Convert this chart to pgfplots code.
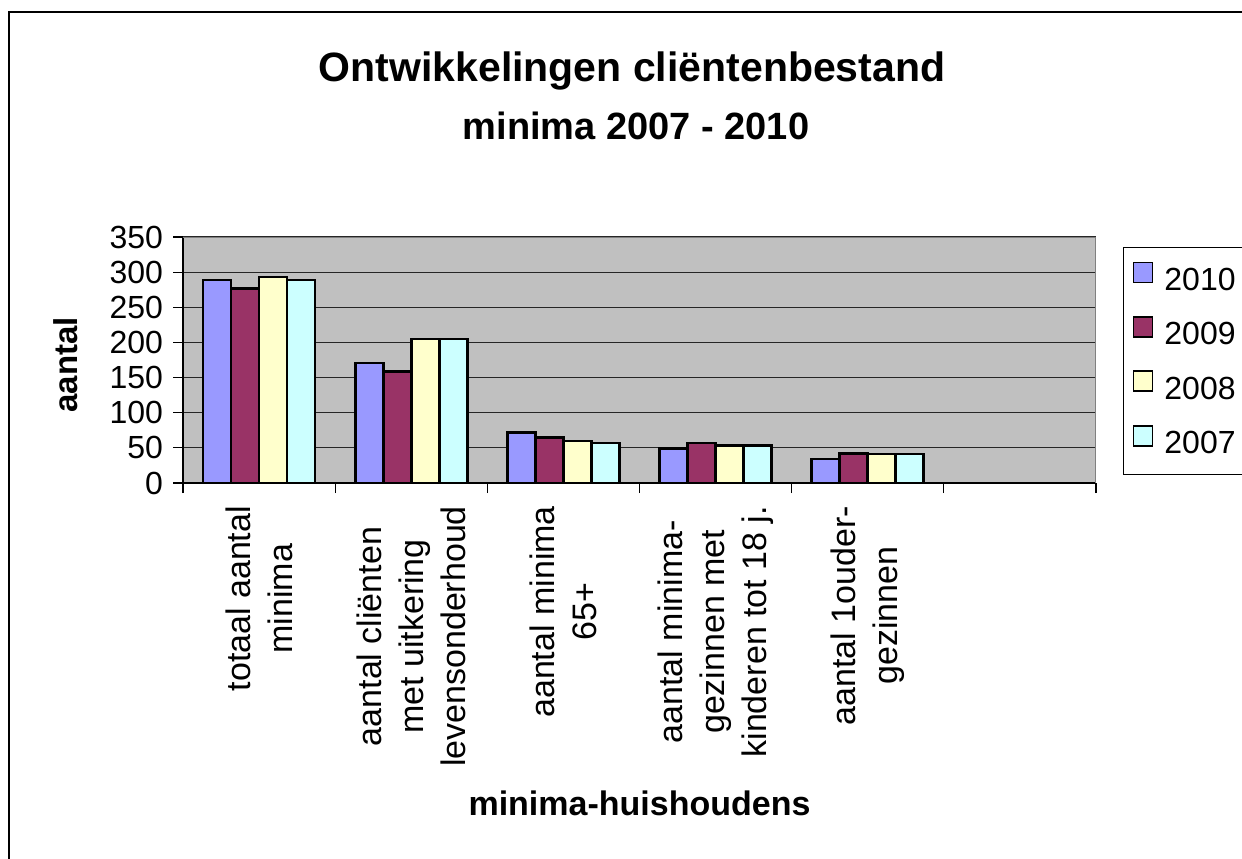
\documentclass[border=0pt]{standalone}
\usepackage{fontspec}
\setmainfont{Liberation Sans}
\usepackage{pgfplots}
\pgfplotsset{compat=1.18}
\definecolor{c2010}{HTML}{9999FF}
\definecolor{c2009}{HTML}{993366}
\definecolor{c2008}{HTML}{FFFFCC}
\definecolor{c2007}{HTML}{CCFFFF}
\definecolor{plotbg}{HTML}{C0C0C0}
\pgfplotsset{
  keysq/.style={legend image code/.code={\draw[##1, line width=0.9pt] (0pt,-1pt) rectangle (9.5pt,9pt);}}
}
\begin{document}
\begin{tikzpicture}
\useasboundingbox (0,0) rectangle (621pt,429pt);
\fill[white] (0,0) rectangle (621pt,429pt);
\draw[line width=1.1pt] (4.5pt,-20pt) rectangle (650pt,423pt);
\node[font=\fontsize{20.5}{24}\selectfont\bfseries, anchor=base] at (316pt,388pt) {Ontwikkelingen cliëntenbestand};
\node[font=\fontsize{19}{23}\selectfont\bfseries, anchor=base] at (318pt,359pt) {minima 2007 - 2010};
\begin{axis}[
  at={(91.5pt,187.5pt)}, anchor=south west,
  width=456.5pt, height=123pt, scale only axis,
  ybar=0pt, bar width=0.184,
  xmin=-0.5, xmax=5.5, ymin=0, ymax=350,
  ytick={0,50,...,350},
  xtick={0,1,2,3,4},
  xticklabels={{totaal aantal\\minima},{aantal cliënten\\met uitkering\\levensonderhoud},{aantal minima\\65+},{aantal minima-\\gezinnen met\\kinderen tot 18 j.},{aantal 1ouder-\\gezinnen}},
  minor xtick={-0.5,0.5,...,5.5},
  axis background/.style={fill=plotbg},
  axis x line*=bottom, axis y line*=left,
  axis line style={black, line width=0.8pt, -},
  ymajorgrids, grid style={black!85, line width=0.6pt},
  tick align=outside,
  major tick length=5pt, minor tick length=5pt,
  tick style={black, line width=0.6pt},
  major x tick style={draw=none},
  /pgf/number format/assume math mode=true,
  yticklabel style={font=\fontsize{16}{19}\selectfont, xshift=-1.5pt},
  xticklabel style={rotate=90, anchor=east, align=center, font=\fontsize{17}{21}\selectfont},
  xticklabel shift=3pt,
  ylabel={aantal},
  ylabel style={at={(axis description cs:-0.129,0.48)}, anchor=center, font=\bfseries\fontsize{16.5}{20}\selectfont},
  xlabel={minima-huishoudens},
  xlabel style={at={(axis description cs:0.5,-1.35)}, anchor=base, font=\bfseries\fontsize{17}{20}\selectfont},
  legend style={at={(axis description cs:1.0296,0.959)}, anchor=north west, draw=black, line width=0.6pt, fill=white,
    font=\fontsize{16}{19}\selectfont, inner xsep=4.5pt, inner ysep=7pt, row sep=9.4pt, column sep=3.5pt, cells={anchor=west}},
  legend cell align=left,
]
\addplot[fill=c2010, draw=black, line width=1.3pt, bar shift=-0.276, keysq] coordinates {(0,289) (1,171) (2,72) (3,49) (4,34)};
\addplot[fill=c2009, draw=black, line width=1.3pt, bar shift=-0.092, keysq] coordinates {(0,277) (1,159) (2,65) (3,57) (4,42)};
\addplot[fill=c2008, draw=black, line width=1.3pt, bar shift=0.092, keysq] coordinates {(0,293) (1,205) (2,60) (3,53) (4,41)};
\addplot[fill=c2007, draw=black, line width=1.3pt, bar shift=0.276, keysq] coordinates {(0,289) (1,205) (2,57) (3,53) (4,41)};
\legend{2010,2009,2008,2007}
\draw[gray, line width=0.8pt] (rel axis cs:0,1) -- (rel axis cs:1,1) -- (rel axis cs:1,0);
\end{axis}
\end{tikzpicture}
\end{document}
